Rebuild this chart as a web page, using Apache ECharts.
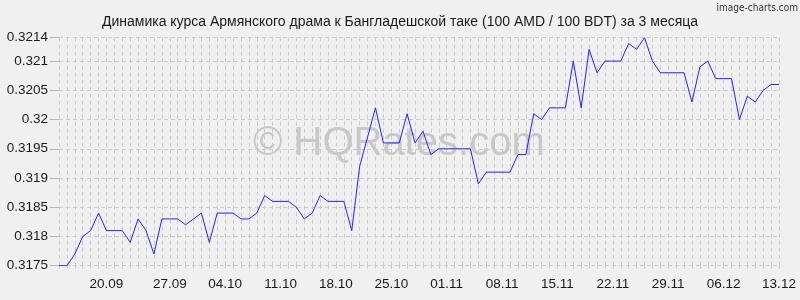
<!DOCTYPE html>
<html>
<head>
<meta charset="utf-8">
<script src="https://cdn.jsdelivr.net/npm/echarts@6/dist/echarts.min.js"></script>
<style>
html,body{margin:0;padding:0;background:#f0f0f0;}
#chart{width:800px;height:300px;}
</style>
</head>
<body>
<div id="chart"></div>
<script>
var titleText = 'Динамика курса Армянского драма к Бангладешской таке (100 AMD / 100 BDT) за 3 месяца';
var startDate = [2023, 8, 13]; // 13.09
var rates = [
  0.3175, 0.3175, 0.3177, 0.3180, 0.3181, 0.3184, 0.3181, 0.3181, 0.3181, 0.3179,
  0.3183, 0.3181, 0.3177, 0.3183, 0.3183, 0.3183, 0.3182, 0.3183, 0.3184, 0.3179,
  0.3184, 0.3184, 0.3184, 0.3183, 0.3183, 0.3184, 0.3187, 0.3186, 0.3186, 0.3186,
  0.3185, 0.3183, 0.3184, 0.3187, 0.3186, 0.3186, 0.3186, 0.3181, 0.3192, 0.3197,
  0.3202, 0.3196, 0.3196, 0.3196, 0.3201, 0.3196, 0.3198, 0.3194, 0.3195, 0.3195,
  0.3195, 0.3195, 0.3195, 0.3189, 0.3191, 0.3191, 0.3191, 0.3191, 0.3194, 0.3194,
  0.3201, 0.3200, 0.3202, 0.3202, 0.3202, 0.3210, 0.3202, 0.3212, 0.3208, 0.3210,
  0.3210, 0.3210, 0.3213, 0.3212, 0.3214, 0.3210, 0.3208, 0.3208, 0.3208, 0.3208,
  0.3203, 0.3209, 0.3210, 0.3207, 0.3207, 0.3207, 0.3200, 0.3204, 0.3203, 0.3205,
  0.3206, 0.3206
];
var xTickLabels = ['20.09','27.09','04.10','11.10','18.10','25.10','01.11','08.11','15.11','22.11','29.11','06.12','13.12'];
var xTickIndex = [6,14,21,28,35,42,49,56,63,70,77,84,91];
var yMin = 0.3175, yMax = 0.3214, yStep = 0.0005;

function pad(n){ return (n < 10 ? '0' : '') + n; }
var categories = [];
for (var i = 0; i < rates.length; i++) {
  var d = new Date(startDate[0], startDate[1], startDate[2] + i);
  categories.push(pad(d.getDate()) + '.' + pad(d.getMonth() + 1));
}

var chart = echarts.init(document.getElementById('chart'), null, {renderer: 'canvas'});
var gridColor = '#cbcbcb';
var font = 'Liberation Sans, Arial, sans-serif';
chart.setOption({
  backgroundColor: '#f0f0f0',
  animation: false,
  title: {
    text: titleText,
    left: 'center',
    top: 10,
    textStyle: {fontFamily: font, fontSize: 14, fontWeight: 'normal', color: '#1a1a1a'}
  },
  graphic: [
    {
      type: 'text', right: 2, top: 3, z: 10,
      style: {text: 'image-charts.com', font: '10px "DejaVu Sans Condensed", sans-serif', fill: '#333'}
    },
    {
      type: 'text', left: 253, top: 124, z: 0,
      style: {text: '© HQRates.com', font: '40px ' + font, fill: '#c8c8c8'}
    }
  ],
  grid: {left: 59, right: 21, top: 37.7, bottom: 34.3, containLabel: false},
  xAxis: {
    type: 'category',
    boundaryGap: false,
    data: categories,
    axisLine: {show: false},
    axisTick: {show: true, interval: 0, length: 5, lineStyle: {color: gridColor, type: [3, 3]}},
    splitLine: {show: true, interval: 0, lineStyle: {color: gridColor, type: [4, 3], width: 1}},
    axisLabel: {
      interval: function(idx){ return xTickIndex.indexOf(idx) >= 0; },
      formatter: function(val, idx){ var k = xTickIndex.indexOf(idx); return k >= 0 ? xTickLabels[k] : ''; },
      margin: 12,
      fontFamily: font, fontSize: 13.5, color: '#1a1a1a'
    }
  },
  yAxis: {
    type: 'value',
    min: yMin, max: yMax, interval: yStep,
    axisLine: {show: false},
    axisTick: {show: true, length: 9, lineStyle: {color: '#b8b8b8'}},
    splitLine: {show: true, lineStyle: {color: gridColor, type: [4, 3], width: 1}},
    axisLabel: {
      margin: 11,
      formatter: function(v){ return String(+v.toFixed(4)); },
      fontFamily: font, fontSize: 13.5, color: '#1a1a1a',
      showMaxLabel: true, showMinLabel: true
    }
  },
  series: [{
    type: 'line',
    data: rates,
    symbol: 'none',
    lineStyle: {color: '#2222ff', width: 1},
    z: 5
  }]
});
</script>
</body>
</html>
